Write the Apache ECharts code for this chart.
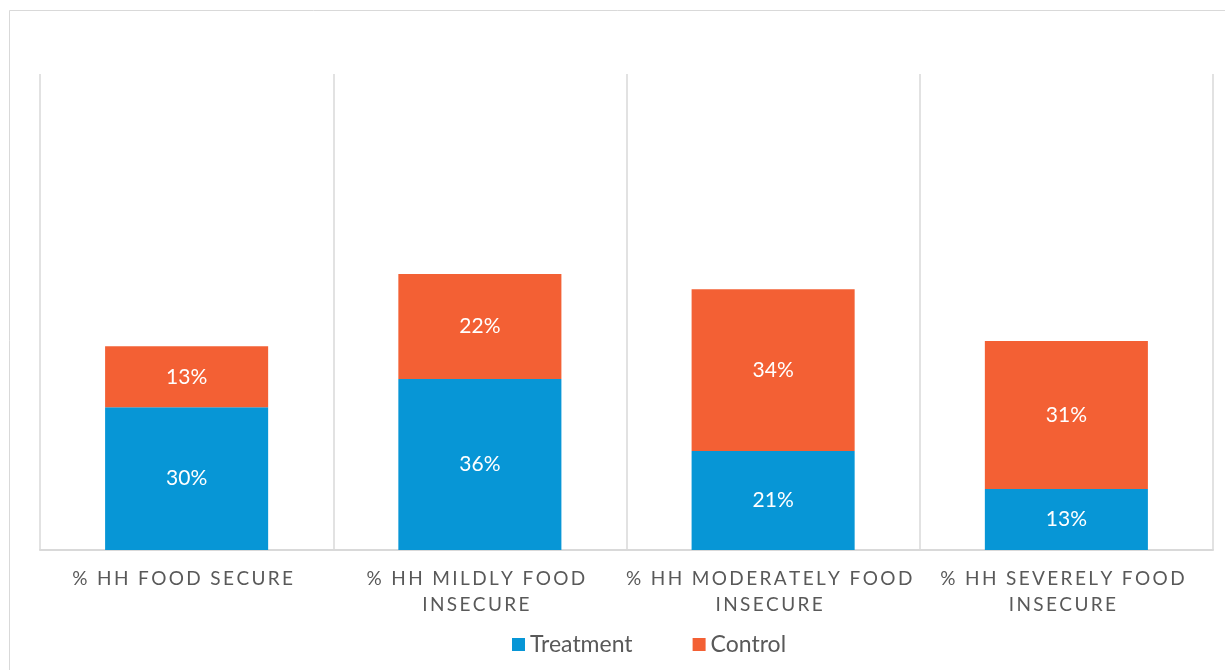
<!DOCTYPE html>
<html>
<head>
<meta charset="utf-8">
<script src="https://cdn.jsdelivr.net/npm/echarts@6/dist/echarts.min.js"></script>
<style>
html,body{margin:0;padding:0;background:#fff;}
#chart{width:1225px;height:670px;}
</style>
</head>
<body>
<div id="chart"></div>
<script>
const categories = [
  "% HH FOOD SECURE",
  "% HH MILDLY FOOD\nINSECURE",
  "% HH MODERATELY FOOD\nINSECURE",
  "% HH SEVERELY FOOD\nINSECURE"
];
const treatment = [30.0, 35.9, 20.8, 12.8];
const control = [12.8, 22.1, 34.0, 31.1];
const seriesNames = ["Treatment", "Control"];

const FONT = "Lato";
function spaced(s) {
  return s.split("\n").map(line => line.split("").join("\u2009")).join("\n");
}

const chart = echarts.init(document.getElementById("chart"), null, {renderer: "canvas"});
chart.setOption({
  backgroundColor: "#fff",
  animation: false,
  graphic: [{
    type: "rect",
    shape: {x: 9.5, y: 10.5, width: 1240, height: 700},
    style: {fill: "none", stroke: "#d9d9d9", lineWidth: 1},
    silent: true
  }],
  grid: {left: 40, right: 12, top: 74, bottom: 120, containLabel: false},
  legend: {
    bottom: 14,
    left: 512,
    padding: 0,
    itemWidth: 13,
    itemHeight: 13,
    itemGap: 60,
    icon: "rect",
    textStyle: {fontFamily: FONT, fontSize: 23, color: "#595959"},
    data: seriesNames
  },
  xAxis: {
    type: "category",
    data: categories,
    axisLine: {lineStyle: {color: "#d9d9d9", width: 2}},
    axisTick: {show: false},
    splitLine: {show: true, lineStyle: {color: "#d9d9d9", width: 1.5}},
    axisLabel: {
      interval: 0,
      margin: 16,
      fontFamily: FONT,
      fontSize: 19,
      lineHeight: 26,
      color: "#595959",
      padding: [0, 8, 0, 0],
      formatter: v => spaced(v)
    }
  },
  yAxis: {
    type: "value",
    min: 0,
    max: 100,
    show: false,
    splitLine: {show: false}
  },
  series: [
    {
      name: seriesNames[0],
      type: "bar",
      stack: "total",
      data: treatment,
      barCategoryGap: "44.4%",
      itemStyle: {color: "#0796d6"},
      label: {
        show: true, position: "inside", color: "#fff",
        fontFamily: FONT, fontSize: 21,
        formatter: p => Math.round(p.value) + "%"
      }
    },
    {
      name: seriesNames[1],
      type: "bar",
      stack: "total",
      data: control,
      barCategoryGap: "44.4%",
      itemStyle: {color: "#f36034"},
      label: {
        show: true, position: "inside", color: "#fff",
        fontFamily: FONT, fontSize: 21,
        formatter: p => Math.round(p.value) + "%"
      }
    }
  ]
});
</script>
</body>
</html>
